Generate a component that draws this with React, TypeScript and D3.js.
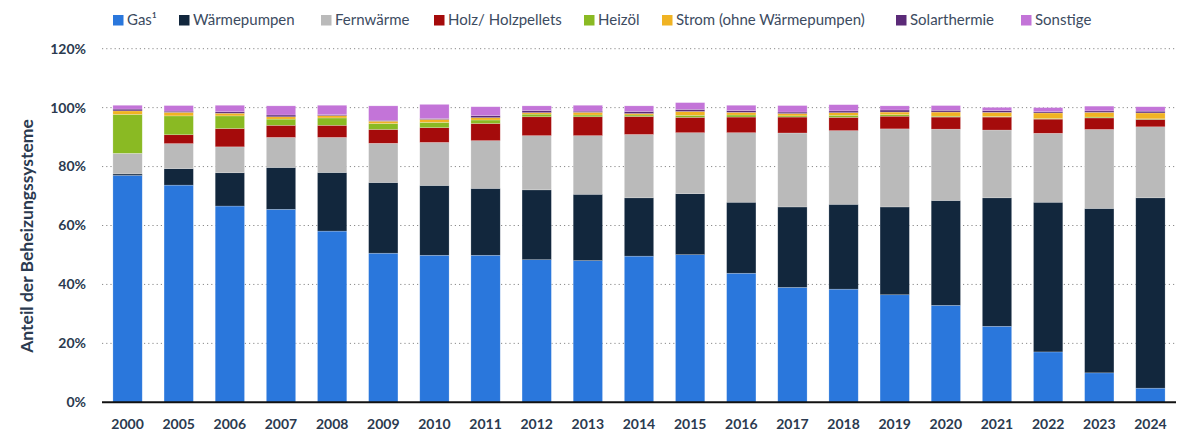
import React from "react";
import * as d3 from "d3";

const years = ["2000","2005","2006","2007","2008","2009","2010","2011","2012","2013","2014","2015","2016","2017","2018","2019","2020","2021","2022","2023","2024"];
const seriesNames = ["Gas¹","Wärmepumpen","Fernwärme","Holz/ Holzpellets","Heizöl","Strom (ohne Wärmepumpen)","Solarthermie","Sonstige"];
const gas = [77.0,73.7,66.6,65.5,58.1,50.6,49.9,49.9,48.4,48.1,49.6,50.1,43.8,39.0,38.4,36.5,32.9,25.8,17.1,10.0,4.8];
const waermepumpen = [0.5,5.6,11.3,14.2,19.9,24.0,23.7,22.7,23.7,22.5,19.8,20.7,24.1,27.3,28.8,29.8,35.6,43.6,50.8,55.8,64.6];
const fernwaerme = [7.0,8.5,8.8,10.2,11.9,13.3,14.6,16.2,18.4,19.9,21.5,20.7,23.6,25.1,25.0,26.5,24.2,23.0,23.4,26.8,24.1];
const holz = [0,3.0,6.2,4.1,4.1,4.7,5.0,5.8,6.4,6.4,6.1,5.2,5.3,5.4,4.5,4.3,4.1,4.4,4.8,3.9,2.5];
const heizoel = [13.2,6.4,4.3,2.1,2.5,2.0,1.8,1.2,0.9,0.6,0.5,0.7,0.7,0.4,0.7,0.5,0.3,0.2,0.2,0.3,0.2];
const strom = [1.2,1.2,0.9,0.8,0.8,0.8,1.0,0.8,0.5,0.9,0.5,1.3,0.9,0.8,0.9,0.9,1.4,1.4,1.9,1.6,2.0];
const solar = [0.6,0.4,0.5,0.6,0.3,0.3,0.3,0.7,0.7,0.4,0.7,0.7,0.6,0.5,0.6,0.7,0.6,0.6,0.4,0.5,0.6];
const sonstige = [1.3,1.9,2.2,3.1,3.2,4.9,4.8,3.0,1.6,2.0,1.9,2.3,1.8,2.2,2.1,1.4,1.6,1.1,1.4,1.6,1.5];
const yTicks = [0,20,40,60,80,100,120];

const colors = ["#2a77dc","#12273d","#bababa","#a50b0b","#8aba23","#f0b323","#5b2a78","#c374d8"];
const legendX = [113,179,321,434,584,662,896,1021];

const W = 1188, H = 432;
const x0 = 102, x1 = 1176, yBottom = 402.3, yTop = 48.7;

export default function App() {
  const values = [gas, waermepumpen, fernwaerme, holz, heizoel, strom, solar, sonstige];
  const table = years.map((yr, i) => {
    const row: any = { year: yr };
    seriesNames.forEach((k, j) => { row[k] = values[j][i]; });
    return row;
  });
  const stack = d3.stack<any>().keys(seriesNames)(table);
  const x = d3.scaleBand().domain(years).range([x0, x1]).paddingInner(0.427).paddingOuter(0.2135);
  const y = d3.scaleLinear().domain([0, 120]).range([yBottom, yTop]);
  const textColor = "#2b3a4f";
  const font = "Lato, 'Open Sans', sans-serif";

  return (
    <svg width={W} height={H} style={{ position: "absolute", left: 0, top: 0, display: "block" }} fontFamily={font}>
      <rect width={W} height={H} fill="#fff" />
      {yTicks.filter(t => t > 0).map(t => (
        <line key={t} x1={x0} x2={x1} y1={y(t)} y2={y(t)} stroke="#8a8a8a" strokeWidth={1} strokeDasharray="1.2,3" />
      ))}
      {stack.map((s, j) => (
        <g key={s.key} fill={colors[j]}>
          {s.map((d, i) => {
            const h = y(d[0]) - y(d[1]);
            if (h <= 0) return null;
            return <rect key={i} x={x(years[i])} y={y(d[1])} width={x.bandwidth()} height={h} stroke="#ffffff" strokeOpacity={0.35} strokeWidth={0.6} />;
          })}
        </g>
      ))}
      <line x1={x0} x2={x1} y1={yBottom} y2={yBottom} stroke="#111" strokeWidth={2} />
      {yTicks.map(t => (
        <text key={t} x={86} y={y(t)} dy="0.35em" textAnchor="end" fontSize={14} fontWeight={700} fill={textColor}>{t}%</text>
      ))}
      {years.map(yr => (
        <text key={yr} x={(x(yr) as number) + x.bandwidth() / 2} y={429} textAnchor="middle" fontSize={14} fontWeight={700} fill={textColor}>{yr}</text>
      ))}
      <text transform={`translate(33,236) rotate(-90)`} textAnchor="middle" fontSize={17.5} fontWeight={700} fill={textColor}>Anteil der Beheizungssysteme</text>
      {seriesNames.map((n, j) => (
        <g key={n} transform={`translate(${legendX[j]},15)`}>
          <rect x={0} y={0} width={10.5} height={10.5} fill={colors[j]} />
          <text x={14} y={10} fontSize={15} fill="#3c4b5f">{n}</text>
        </g>
      ))}
    </svg>
  );
}
